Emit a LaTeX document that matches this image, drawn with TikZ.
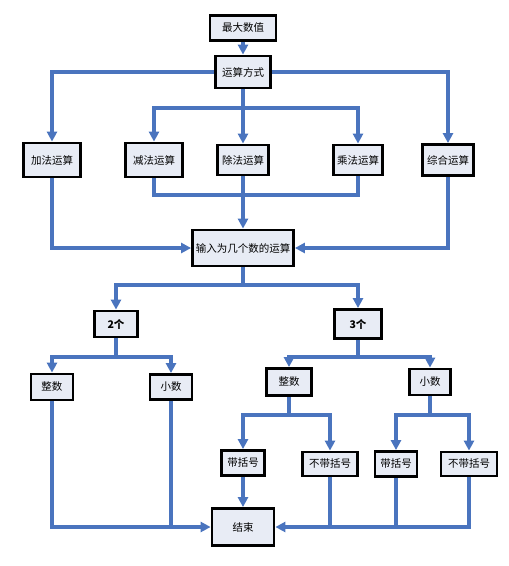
\documentclass[tikz,border=0pt]{standalone}
\usepackage{fontspec}
\newfontfamily\cjk{Noto Sans CJK SC}
\usepackage{xcolor}
\usetikzlibrary{arrows.meta, positioning}
\definecolor{flowblue}{HTML}{4A74BE}
\definecolor{boxfill}{HTML}{E8ECF5}

\begin{document}
\begin{tikzpicture}[x=1pt, y=-1pt,
    box/.style={draw=black, line width=2.8pt, fill=boxfill, inner sep=1pt,
      font=\cjk\fontsize{10.5}{12}\selectfont},
    link/.style={draw=flowblue, line width=3.2pt},
    flow/.style={link, -{Triangle[width=10pt,length=10pt]}}]
  \useasboundingbox (0,0) rectangle (509,566);

  % Top
  \node[box, minimum width=66pt, minimum height=25pt] (max) at (243,28) {最大数值};
  \node[box, minimum width=55pt, minimum height=32pt] (op) at (243,72) {运算方式};

  % Operations
  \node[box, minimum width=57pt, minimum height=34pt] (add) at (52,160) {加法运算};
  \node[box, minimum width=57pt, minimum height=34pt] (sub) at (154,160) {减法运算};
  \node[box, minimum width=51pt, minimum height=30pt] (div) at (243,160) {除法运算};
  \node[box, minimum width=49pt, minimum height=30pt] (mul) at (358,160) {乘法运算};
  \node[box, minimum width=51pt, minimum height=31pt] (mix) at (448,160) {综合运算};

  % Input
  \node[box, minimum width=101pt, minimum height=36pt] (input) at (243,248) {输入为几个数的运算};

  % Count
  \node[box, minimum width=43pt, minimum height=26pt, font=\cjk\bfseries\fontsize{10.5}{12}\selectfont] (two) at (116,324) {2个};
  \node[box, minimum width=47pt, minimum height=29pt, font=\cjk\bfseries\fontsize{10.5}{12}\selectfont] (three) at (358,324) {3个};

  % Number types
  \node[box, minimum width=42pt, minimum height=26pt] (intL) at (52,387) {整数};
  \node[box, minimum width=42pt, minimum height=25pt] (decL) at (171,387) {小数};
  \node[box, minimum width=45pt, minimum height=27pt] (intR) at (289,382) {整数};
  \node[box, minimum width=41pt, minimum height=26pt] (decR) at (430,382) {小数};

  % Brackets
  \node[box, minimum width=43pt, minimum height=25pt] (brA) at (243,463) {带括号};
  \node[box, minimum width=55pt, minimum height=24pt] (nbrA) at (330,464) {不带括号};
  \node[box, minimum width=42pt, minimum height=25pt] (brB) at (396,464) {带括号};
  \node[box, minimum width=56pt, minimum height=24pt] (nbrB) at (469,464) {不带括号};

  % End
  \node[box, minimum width=62pt, minimum height=37pt] (end) at (243,527) {结束};

  % Split points
  \coordinate (splitOp) at (243,108);
  \coordinate (joinOp) at (243,195);
  \coordinate (splitIn) at (243,285);
  \coordinate (splitTwo) at (116,357);
  \coordinate (splitThree) at (358,357);
  \coordinate (splitInt) at (289,415);
  \coordinate (splitDec) at (430,415);

  % Top connectors
  \draw[flow] (max) -- (op);
  \draw[flow] (op.west) -| (add.north);
  \draw[flow] (op.east) -| (mix.north);
  \draw[flow] (op) -- (div);
  \draw[flow] (splitOp) -| (sub.north);
  \draw[flow] (splitOp) -| (mul.north);

  % Into input
  \draw[link] (sub.south) |- (joinOp);
  \draw[link] (mul.south) |- (joinOp);
  \draw[flow] (div) -- (input);
  \draw[flow] (add.south) |- (input.west);
  \draw[flow] (mix.south) |- (input.east);

  % Counts
  \draw[link] (input) -- (splitIn);
  \draw[flow] (splitIn) -| (two.north);
  \draw[flow] (splitIn) -| (three.north);
  \draw[link] (two) -- (splitTwo);
  \draw[flow] (splitTwo) -| (intL.north);
  \draw[flow] (splitTwo) -| (decL.north);
  \draw[link] (three) -- (splitThree);
  \draw[flow] (splitThree) -| (intR.north);
  \draw[flow] (splitThree) -| (decR.north);

  % Brackets
  \draw[link] (intR) -- (splitInt);
  \draw[flow] (splitInt) -| (brA.north);
  \draw[flow] (splitInt) -| (nbrA.north);
  \draw[link] (decR) -- (splitDec);
  \draw[flow] (splitDec) -| (brB.north);
  \draw[flow] (splitDec) -| (nbrB.north);

  % To end
  \draw[flow] (brA) -- (end);
  \draw[flow] (intL.south) |- (end.west);
  \draw[link] (decL.south) -- (decL.south |- end.west);
  \draw[flow] (nbrB.south) |- (end.east);
  \draw[link] (nbrA.south) -- (nbrA.south |- end.east);
  \draw[link] (brB.south) -- (brB.south |- end.east);
\end{tikzpicture}
\end{document}
